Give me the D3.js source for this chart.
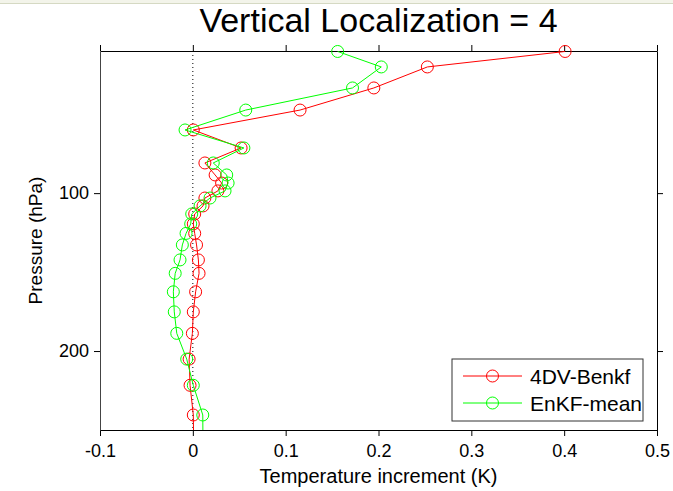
<!DOCTYPE html>
<html>
<head>
<meta charset="utf-8">
<script src="https://cdn.jsdelivr.net/npm/d3@7"></script>
<style>
  body { margin: 0; background: #fff; }
  svg { display: block; font-family: 'Liberation Sans', Arial, sans-serif; }
</style>
</head>
<body>
<svg width="673" height="491"></svg>
<script>
// model levels (hPa) and increments (K)
const pressure = [10.3, 20.1, 33.4, 47.4, 60.0, 71.4, 80.9, 88.5, 93.6, 98.6, 103.1, 108.1,
  113.2, 119.5, 125.5, 132.8, 142.3, 150.8, 162.5, 175.2, 188.8, 205.1, 221.7, 240.5, 262];
const benkf = [0.401, 0.2526, 0.195, 0.1155, 0.0005, 0.052, 0.013, 0.024, 0.031, 0.027, 0.013, 0.011,
  0.002, 0.0005, 0.002, 0.004, 0.006, 0.0067, 0.003, 0.0005, -0.0005, -0.004, -0.003, 0.0005, 0.001];
const enkfMean = [0.156, 0.203, 0.172, 0.057, -0.0084, 0.055, 0.022, 0.0365, 0.038, 0.0347, 0.0185, 0.0078,
  -0.0012, -0.0023, -0.0073, -0.0113, -0.0138, -0.019, -0.021, -0.020, -0.0173, -0.0066, 0.0005, 0.0107, 0.011];
const seriesNames = ['4DV-Benkf', 'EnKF-mean'];
const seriesColors = ['#ff0000', '#00ff00'];
const xTicks = [-0.1, 0, 0.1, 0.2, 0.3, 0.4, 0.5];
const yTicks = [100, 200];

const svg = d3.select('svg');
const width = +svg.attr('width');
const height = +svg.attr('height');

const render = () => {
  const title = 'Vertical Localization = 4';
  const xAxisLabel = 'Temperature increment (K)';
  const yAxisLabel = 'Pressure (hPa)';
  const circleRadius = 6;
  const margin = {top: 51, right: 16, bottom: 61, left: 100};
  const innerWidth = width - margin.left - margin.right;
  const innerHeight = height - margin.top - margin.bottom;

  svg.append('rect').attr('width', width).attr('height', height).attr('fill', '#fff');
  // thin frame strip at the top of the screenshot
  svg.append('rect').attr('width', width).attr('height', 3).attr('fill', '#f3f4ea');
  svg.append('line').attr('x1', 0).attr('x2', width).attr('y1', 3.5).attr('y2', 3.5)
    .attr('stroke', '#d5d9c3');

  const xScale = d3.scaleLinear().domain([-0.1, 0.5]).range([0, innerWidth]);
  const yScale = d3.scaleLinear().domain([10, 250]).range([0, innerHeight]);

  const g = svg.append('g')
    .attr('transform', `translate(${margin.left},${margin.top})`);

  g.append('clipPath').attr('id', 'plot-clip')
    .append('rect').attr('width', innerWidth).attr('height', innerHeight);

  // axes on all four sides, ticks pointing out
  const styleAxis = sel => {
    sel.selectAll('.domain').attr('stroke', '#000');
    sel.selectAll('.tick line').attr('stroke', '#000');
    sel.selectAll('.tick text').attr('fill', '#000')
      .style('font-size', '18px').style('font-family', 'Liberation Sans, Arial, sans-serif');
  };

  const xAxisG = g.append('g')
    .attr('transform', `translate(0,${innerHeight})`)
    .call(d3.axisBottom(xScale).tickValues(xTicks).tickFormat(d => String(d))
      .tickSize(6).tickSizeOuter(0).tickPadding(8));
  styleAxis(xAxisG);

  const topAxisG = g.append('g')
    .call(d3.axisTop(xScale).tickValues(xTicks).tickFormat('').tickSize(6).tickSizeOuter(0));
  styleAxis(topAxisG);

  const yAxisG = g.append('g')
    .call(d3.axisLeft(yScale).tickValues(yTicks).tickSize(6).tickSizeOuter(0).tickPadding(5));
  styleAxis(yAxisG);
  yAxisG.select('.domain').attr('stroke', '#444');

  const rightAxisG = g.append('g')
    .attr('transform', `translate(${innerWidth},0)`)
    .call(d3.axisRight(yScale).tickValues(yTicks).tickFormat('').tickSize(6).tickSizeOuter(0));
  styleAxis(rightAxisG);

  // dotted zero line
  g.append('line')
    .attr('x1', xScale(0)).attr('x2', xScale(0))
    .attr('y1', 0).attr('y2', innerHeight)
    .attr('stroke', '#000').attr('stroke-dasharray', '1,3');

  const series = [benkf, enkfMean];
  const line = d3.line()
    .x(d => xScale(d[0]))
    .y(d => yScale(d[1]));

  series.forEach((values, i) => {
    const pts = values.map((v, j) => [v, pressure[j]]);
    g.append('path')
      .datum(pts)
      .attr('clip-path', 'url(#plot-clip)')
      .attr('fill', 'none')
      .attr('stroke', seriesColors[i])
      .attr('stroke-width', 1)
      .attr('d', line);
    g.selectAll(null).data(pts.filter(d => d[1] <= 250))
      .enter().append('circle')
        .attr('cx', d => xScale(d[0]))
        .attr('cy', d => yScale(d[1]))
        .attr('r', circleRadius)
        .attr('fill', 'none')
        .attr('stroke', seriesColors[i])
        .attr('stroke-width', 1);
  });

  // axis labels
  xAxisG.append('text')
    .attr('x', innerWidth / 2)
    .attr('y', 53)
    .attr('fill', '#000')
    .attr('text-anchor', 'middle')
    .style('font-size', '20px')
    .text(xAxisLabel);

  yAxisG.append('text')
    .attr('x', -innerHeight / 2)
    .attr('y', -58)
    .attr('transform', 'rotate(-90)')
    .attr('fill', '#000')
    .attr('text-anchor', 'middle')
    .style('font-size', '19px')
    .text(yAxisLabel);

  g.append('text')
    .attr('x', innerWidth / 2)
    .attr('y', -19)
    .attr('text-anchor', 'middle')
    .style('font-size', '34px')
    .text(title);

  // legend
  const legend = g.append('g')
    .attr('transform', `translate(${452 - margin.left},${359 - margin.top})`);
  legend.append('rect')
    .attr('width', 191).attr('height', 62)
    .attr('fill', '#fff').attr('stroke', '#333');
  seriesNames.forEach((name, i) => {
    const row = legend.append('g').attr('transform', `translate(0,${17 + i * 27})`);
    row.append('line').attr('x1', 11).attr('x2', 70)
      .attr('stroke', seriesColors[i]);
    row.append('circle').attr('cx', 40.5).attr('r', circleRadius)
      .attr('fill', 'none').attr('stroke', seriesColors[i]);
    row.append('text').attr('x', 78).attr('y', 8)
      .style('font-size', '21px')
      .text(name);
  });
};

render();
</script>
</body>
</html>
